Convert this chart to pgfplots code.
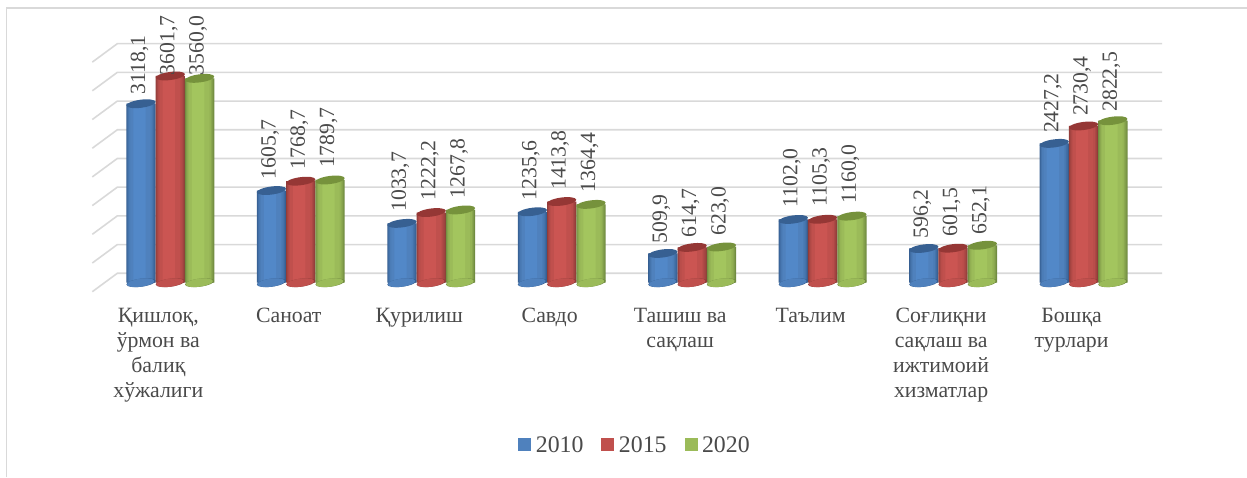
\documentclass[border=0pt]{standalone}
\usepackage{pgfplots}
\usepackage{pgfplotstable}
\usepackage{fontspec}
\setmainfont{Liberation Serif}
\pgfplotsset{compat=1.18}
\definecolor{gridc}{HTML}{D9D9D9}
\definecolor{txt}{HTML}{4A4A4A}
\definecolor{bl}{HTML}{4F81BD}\definecolor{bll}{HTML}{5288C8}\definecolor{bld}{HTML}{355E91}\definecolor{blc}{HTML}{376092}
\definecolor{rd}{HTML}{C0504D}\definecolor{rdl}{HTML}{CB5552}\definecolor{rdd}{HTML}{8F3C39}\definecolor{rdc}{HTML}{953735}
\definecolor{gn}{HTML}{9BBB59}\definecolor{gnl}{HTML}{A3C55E}\definecolor{gnd}{HTML}{708A40}\definecolor{gnc}{HTML}{76923C}
\newcommand{\capellipse}{\pgfpathellipse{\pgfpointorigin}{\pgfqpoint{14.6pt}{1.9pt}}{\pgfqpoint{-0.5pt}{4.0pt}}\pgfusepathqfill}
\newcommand{\capinner}{\pgfpathellipse{\pgfqpoint{-0.4pt}{0pt}}{\pgfqpoint{13.6pt}{1.8pt}}{\pgfqpoint{-0.5pt}{4.0pt}}\pgfusepathqfill}
\pgfdeclareplotmark{cyl}{\capellipse}
\pgfdeclareplotmark{bb}{\pgfsetfillcolor{bld}\capellipse\pgfsetfillcolor{bl}\capinner}
\pgfdeclareplotmark{br}{\pgfsetfillcolor{rdd}\capellipse\pgfsetfillcolor{rd}\capinner}
\pgfdeclareplotmark{bg}{\pgfsetfillcolor{gnd}\capellipse\pgfsetfillcolor{gn}\capinner}
\pgfplotstableread{
i  a      b      c      z  da   db   dc
0  3118.1 3601.7 3560.0 0  9.2  0.5  2.9
1  1605.7 1768.7 1789.7 0  11   11.7 12.5
2  1033.7 1222.2 1267.8 0  11.5 12   11.5
3  1235.6 1413.8 1364.4 0  11.5 11.5 11.9
4  509.9  614.7  623.0  0  10.2 9.9  11.1
5  1102.0 1105.3 1160.0 0  11.9 12.5 12.3
6  596.2  601.5  652.1  0  10   11.4 10.5
7  2427.2 2730.4 2822.5 0  10.2 9.8  8.9
}\datatable
% one bar layer: shift (pt), offset (pt), width (pt), fill, column
\newcommand{\lay}[5]{\addplot[forget plot,ybar,draw=none,fill=#4,bar width=#3pt,bar shift={#1pt+(#2pt)}] table[x=i,y=#5]{\datatable};}
\newcommand{\layers}[5]{% shift, dark, mid, light, column
  \lay{#1}{-0.1}{27.5}{#2!65!#3}{#5}
  \lay{#1}{-0.3}{25.5}{#2!40!#3}{#5}
  \lay{#1}{-0.4}{23.3}{#2!15!#3}{#5}
  \lay{#1}{-0.5}{20.3}{#3}{#5}
  \lay{#1}{-1.5}{12.3}{#4}{#5}
}
\begin{document}
\begin{tikzpicture}[x=1pt,y=1pt]
\useasboundingbox (0,-174) rectangle (1247,303);
\begin{axis}[
  at={(0,0)},anchor=south west,
  scale only axis,width=1247pt,height=303pt,
  xmin=-1.3054,xmax=8.2530,ymin=-353.7,ymax=4925.1,
  clip=false,
  axis line style={draw=none},
  major tick style={draw=none},
  ytick=\empty,
  xtick={0,...,7},
  xticklabels={{Қишлоқ,\\ўрмон ва\\балиқ\\хўжалиги},{Саноат},{Қурилиш},{Савдо},{Ташиш ва\\сақлаш},{Таълим},{Соғлиқни\\сақлаш ва\\ижтимоий\\хизматлар},{Бошқа\\турлари}},
  xticklabel style={align=center,anchor=north,xshift=-12pt,yshift=-2pt,
    font=\fontsize{21.8}{25}\selectfont,text=txt},
  unbounded coords=jump,
  legend columns=3,
  legend style={draw=none,fill=none,at={(635/1247,-0.4686)},anchor=center,
    font=\fontsize{23.8}{26}\selectfont,text=txt,
    /tikz/every even column/.append style={column sep=16pt}},
  nodes near coords style={xshift=-1.5pt,rotate=90,anchor=west,inner xsep=\lab pt,font=\fontsize{21.7}{24}\selectfont,text=txt,
    /pgf/number format/.cd,fixed,fixed zerofill,precision=1,dec sep={,},1000 sep={},assume math mode=true},
]
% gridlines
\addplot[forget plot,gridc,line width=1.6pt] coordinates {
(-0.5979,-157)(-0.4063,164)(7.6015,164) (0,nan)
(-0.5979,343)(-0.4063,664)(7.6015,664) (0,nan)
(-0.5979,843)(-0.4063,1164)(7.6015,1164) (0,nan)
(-0.5979,1343)(-0.4063,1664)(7.6015,1664) (0,nan)
(-0.5979,1843)(-0.4063,2164)(7.6015,2164) (0,nan)
(-0.5979,2343)(-0.4063,2664)(7.6015,2664) (0,nan)
(-0.5979,2843)(-0.4063,3164)(7.6015,3164) (0,nan)
(-0.5979,3343)(-0.4063,3664)(7.6015,3664) (0,nan)
(-0.5979,3843)(-0.4063,4164)(7.6015,4164)
};
% 2010
\addplot[forget plot,only marks,mark=bb,shift={(-29.3pt,0)}] table[x=i,y=z]{\datatable};
\addplot[ybar,bar width=29.3pt,bar shift=-29.3pt,draw=none,fill=bld,
  legend image code/.code={\fill[bl] (0pt,-6.5pt) rectangle (13pt,6.5pt);\path (15.5pt,0pt);}] table[x=i,y=a]{\datatable};
\addlegendentry{2010}
\layers{-29.3}{bld}{bl}{bll}{a}
\addplot[forget plot,only marks,mark=cyl,color=blc,shift={(-29.3pt,0)},
  visualization depends on={\thisrow{da}\as\lab},nodes near coords] table[x=i,y=a]{\datatable};
% 2015
\addplot[forget plot,only marks,mark=br] table[x=i,y=z]{\datatable};
\addplot[ybar,bar width=29.3pt,bar shift=0pt,draw=none,fill=rdd,
  legend image code/.code={\fill[rd] (0pt,-6.5pt) rectangle (13pt,6.5pt);\path (15.5pt,0pt);}] table[x=i,y=b]{\datatable};
\addlegendentry{2015}
\layers{0}{rdd}{rd}{rdl}{b}
\addplot[forget plot,only marks,mark=cyl,color=rdc,
  visualization depends on={\thisrow{db}\as\lab},nodes near coords] table[x=i,y=b]{\datatable};
% 2020
\addplot[forget plot,only marks,mark=bg,shift={(29.3pt,0)}] table[x=i,y=z]{\datatable};
\addplot[ybar,bar width=29.3pt,bar shift=29.3pt,draw=none,fill=gnd,
  legend image code/.code={\fill[gn] (0pt,-6.5pt) rectangle (13pt,6.5pt);\path (15.5pt,0pt);}] table[x=i,y=c]{\datatable};
\addlegendentry{2020}
\layers{29.3}{gnd}{gn}{gnl}{c}
\addplot[forget plot,only marks,mark=cyl,color=gnc,shift={(29.3pt,0)},
  visualization depends on={\thisrow{dc}\as\lab},nodes near coords] table[x=i,y=c]{\datatable};
\end{axis}
\draw[gridc,line width=1.5pt] (6.3,-174) -- (6.3,295) -- (1247,295);
\end{tikzpicture}
\end{document}
